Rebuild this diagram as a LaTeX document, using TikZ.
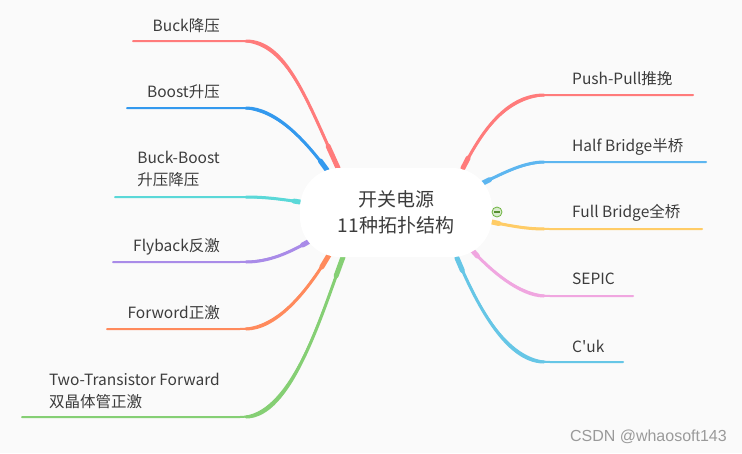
\documentclass[tikz,border=0pt]{standalone}
\usepackage{fontspec}
\setmainfont{Noto Sans CJK SC}[Ligatures=TeXOff]
\newfontfamily\wmfont{Liberation Sans}
\usetikzlibrary{calc}
\definecolor{cbg}{HTML}{FAFAFA}
\definecolor{ctext}{HTML}{3C3C3C}
\definecolor{cbuck}{HTML}{FF7B7B}
\definecolor{cboost}{HTML}{3399EE}
\definecolor{cbb}{HTML}{5AD8D8}
\definecolor{cfly}{HTML}{A98BE8}
\definecolor{cfwd}{HTML}{FF8A5C}
\definecolor{ctwo}{HTML}{85CF74}
\definecolor{cpush}{HTML}{FF7B7B}
\definecolor{chalf}{HTML}{5DB6F0}
\definecolor{cfull}{HTML}{FFCC66}
\definecolor{csepic}{HTML}{F0A6E0}
\definecolor{ccuk}{HTML}{66C6E6}
\definecolor{cfold}{HTML}{6DB33F}
\definecolor{cwm}{HTML}{9A9A9A}
\tikzset{
  every picture/.style={x=1pt, y=-1pt},
  hub/.style={fill=white, rounded corners=40pt, minimum width=192pt, minimum height=89pt,
    inner sep=0pt, align=center, text=ctext, font=\fontsize{19}{26}\selectfont},
  topic/.style={text=ctext, inner sep=0pt, align=left, font=\fontsize{15.5}{22}\selectfont},
  branch/.style={draw=#1, line width=2pt, line cap=round},
  fold/.style={circle, draw=cfold, fill=cfold!25, line width=0.8pt, minimum size=10pt, inner sep=0pt,
    path picture={\draw[cfold!80!black, line width=1.2pt]
      ([xshift=-3pt]path picture bounding box.center) -- ([xshift=3pt]path picture bounding box.center);}},
  wmark/.style={text=cwm, inner sep=0pt, font=\wmfont\fontsize{16}{18}\selectfont},
}

\begin{document}
\begin{tikzpicture}
  \fill[cbg] (0,0) rectangle (742,453);
  % left side
  \foreach \n/\col/\txt/\ty/\ex/\ey/\px/\py/\qx/\ly/\fx in {
    buck/cbuck/{Buck降压}/26/338/168/305/95/285/41/133,
    boost/cboost/{Boost升压}/92/327/170/305/140/275/108/127,
    bb/cbb/{Buck-Boost\\升压降压}/169/300/202/280/199/265/197/115,
    fly/cfly/{Flyback反激}/247/308/242/290/252/270/262/113,
    fwd/cfwd/{Forword正激}/313/329/255/305/295/275/329/107,
    two/ctwo/{Two-Transistor Forward\\双晶体管正激}/391/343/257/320/320/290/417/22} {
    \node[topic, anchor=east] (t\n) at (220,\ty) {\txt};
    \coordinate (e\n) at (\ex,\ey);
    \coordinate (k\n) at (240,\ly);
    \coordinate (f\n) at (\fx,\ly);
    \draw[branch=\col] (e\n) .. controls (\px,\py) and (\qx,\ly) .. (k\n) -- (f\n);
    \draw[branch=\col, line width=3pt, shorten >=6pt] (e\n) .. controls (\px,\py) and (\qx,\ly) .. (k\n);
    \draw[branch=\col, line width=5pt] (e\n) -- ($(e\n)!0.3!(\px,\py)$);
  }
  % right side
  \foreach \n/\col/\txt/\ty/\ex/\ey/\px/\py/\qx/\ly/\fx in {
    push/cpush/{Push-Pull推挽}/79/463/168/480/135/505/95/693,
    half/chalf/{Half Bridge半桥}/147/483/183/505/172/525/162/706,
    full/cfull/{Full Bridge全桥}/213/492/222/515/227/530/229/702,
    sepic/csepic/{SEPIC}/279/472/250/490/270/520/296/633,
    cuk/ccuk/{C'uk}/346/457/258/475/300/505/362/623} {
    \node[topic, anchor=west] (t\n) at (572,\ty) {\txt};
    \coordinate (e\n) at (\ex,\ey);
    \coordinate (k\n) at (550,\ly);
    \coordinate (f\n) at (\fx,\ly);
    \draw[branch=\col] (e\n) .. controls (\px,\py) and (\qx,\ly) .. (k\n) -- (f\n);
    \draw[branch=\col, line width=3pt, shorten >=6pt] (e\n) .. controls (\px,\py) and (\qx,\ly) .. (k\n);
    \draw[branch=\col, line width=5pt] (e\n) -- ($(e\n)!0.3!(\px,\py)$);
  }
  \node[hub] (hub) at (396,212.5) {开关电源\\11种拓扑结构};
  \node[fold] (foldfull) at (497,212) {};
  \node[wmark, anchor=east] (csdn) at (727,437) {CSDN @whaosoft143};
\end{tikzpicture}
\end{document}
